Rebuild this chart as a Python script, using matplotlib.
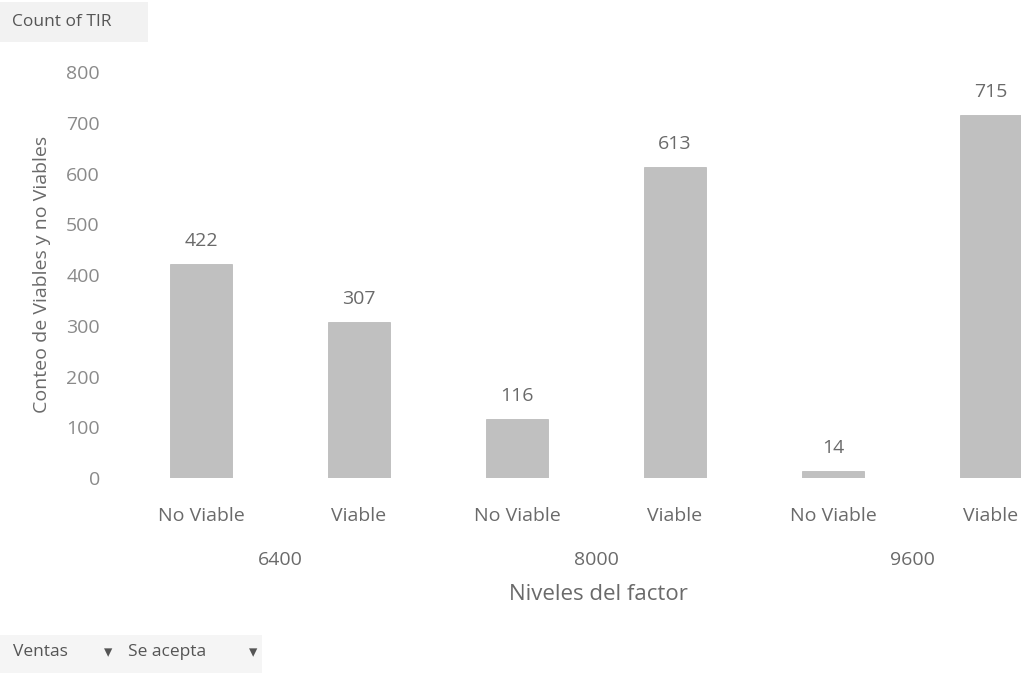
import numpy as np
import matplotlib.pyplot as plt
from matplotlib.patches import Rectangle

# pivot chart data: Ventas level x acceptance status
niveles = ["6400", "8000", "9600"]
estados = ["No Viable", "Viable"]
conteos = [422, 307, 116, 613, 14, 715]

y_ticks = [0, 100, 200, 300, 400, 500, 600, 700, 800]

plt.rcParams["font.family"] = ["Open Sans", "DejaVu Sans"]
text_gray = "#6a6a6a"
tick_gray = "#8a8a8a"
bar_gray = "#c0c0c0"

W, H = 1021, 673
fig = plt.figure(figsize=(W / 100, H / 100), dpi=100)
fig.patch.set_facecolor("white")

# axes spill past the right edge, like the cropped screenshot
ax = fig.add_axes([0.1195, 0.2897, 0.9285, 0.6033])

labels = [e for _ in niveles for e in estados]
x = np.arange(len(conteos))
bars = ax.bar(x, conteos, width=0.39, color=bar_gray, edgecolor="#b5b5b5", linewidth=0.5)

for b, v in zip(bars, conteos):
    ax.annotate(str(v), (b.get_x() + b.get_width() / 2, v),
                xytext=(0, 10), textcoords="offset points",
                ha="center", va="bottom", fontsize=14, color=text_gray)

ax.set_xlim(-0.5, len(conteos) - 0.5)
ax.set_ylim(0, 800)
ax.set_yticks(y_ticks)
ax.set_yticklabels([str(t) for t in y_ticks])
ax.set_xticks(x)
ax.set_xticklabels(labels)
ax.tick_params(axis="both", length=0, labelsize=14)
ax.tick_params(axis="x", pad=21, labelcolor=text_gray)
ax.tick_params(axis="y", pad=16, labelcolor=tick_gray)
for s in ax.spines.values():
    s.set_visible(False)

# group labels under the category labels
for i, nivel in enumerate(niveles):
    ax.annotate(nivel, (2 * i + 0.5, 0), xycoords=("data", "axes fraction"),
                xytext=(0, -59), textcoords="offset points",
                ha="center", va="center", fontsize=14, color=text_gray)

fig.text(0.586, 0.117, "Niveles del factor", ha="center", va="center",
         fontsize=16, color=text_gray)
fig.text(0.041, 0.592, "Conteo de Viables y no Viables", rotation=90,
         ha="center", va="center", fontsize=14, color=text_gray)

# pivot field buttons
fig.patches.append(Rectangle((0, 1 - 42 / H), 148 / W, 40 / H,
                             transform=fig.transFigure, fc="#f2f2f2", ec="none"))
fig.text(12 / W, 1 - 22 / H, "Count of TIR", ha="left", va="center",
         fontsize=12.5, color="#555555")
fig.patches.append(Rectangle((0, 0), 262 / W, 38 / H,
                             transform=fig.transFigure, fc="#f5f5f5", ec="none"))
fig.text(13 / W, 1 - 652 / H, "Ventas", ha="left", va="center",
         fontsize=12.5, color="#555555")
fig.text(108 / W, 1 - 652 / H, "\u25be", ha="center", va="center",
         fontsize=12, color="#555555", family="DejaVu Sans")
fig.text(128 / W, 1 - 652 / H, "Se acepta", ha="left", va="center",
         fontsize=12.5, color="#555555")
fig.text(253 / W, 1 - 652 / H, "\u25be", ha="center", va="center",
         fontsize=12, color="#555555", family="DejaVu Sans")

fig.savefig("out.png", dpi=100)
